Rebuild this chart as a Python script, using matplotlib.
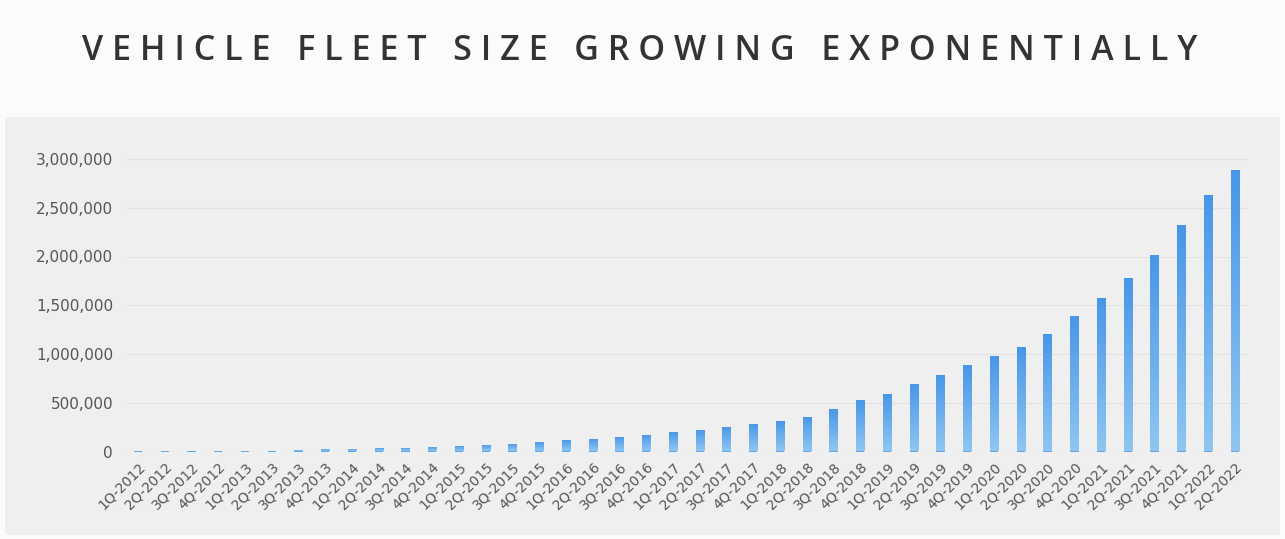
import numpy as np
import matplotlib
matplotlib.use("Agg")
import matplotlib.pyplot as plt
from matplotlib.patches import Rectangle
from matplotlib import ticker

# quarters 1Q-2012 .. 2Q-2022
quarters = [f"{q}Q-{y}" for y in range(2012, 2023) for q in range(1, 5)][:42]

# fleet size (approx.)
fleet = [
    1000, 1500, 2000, 2500, 5000, 10000, 15000, 22000,          # 2012 - 4Q-2013
    28000, 34000, 40000, 46000,                                 # 2014
    58000, 63000, 79000, 102000,                                # 2015
    120000, 127000, 147000, 171000,                             # 2016
    198000, 225000, 253000, 277000,                             # 2017
    311000, 350000, 436000, 528000,                             # 2018
    586000, 688000, 781000, 886000,                             # 2019
    978000, 1071000, 1204000, 1391000,                          # 2020
    1573000, 1775000, 2016000, 2318000,                         # 2021
    2628000, 2884000,                                           # 2022
]

title = "VEHICLE FLEET SIZE GROWING EXPONENTIALLY"
yticks = [0, 500000, 1000000, 1500000, 2000000, 2500000, 3000000]

W, H = 1285, 539
fig = plt.figure(figsize=(W / 100, H / 100), dpi=100)
fig.patch.set_facecolor("#fbfbfb")

# grey panel behind the chart
fig.patches.append(Rectangle((5 / W, 1 - 535 / H), 1275 / W, 418 / H,
                             transform=fig.transFigure, facecolor="#efefef",
                             edgecolor="none", zorder=-5))

spaced = "   ".join(" ".join(w) for w in title.split())
fig.text(640 / W, 1 - 60 / H, spaced, ha="center", va="baseline",
         fontsize=24.5, fontweight="semibold", color="#333333", family="Open Sans")

ax = fig.add_axes([127 / W, 1 - 451.5 / H, 1121 / W, 292.5 / H])
ax.set_zorder(2)
ax.set_facecolor("none")

x = np.arange(len(fleet))
bars = ax.bar(x, fleet, width=0.31, color="#5ea7ec", zorder=3)

# vertical gradient in each bar: darker on top, lighter at the bottom
grad = np.linspace(0, 1, 256).reshape(-1, 1)
cmap = matplotlib.colors.LinearSegmentedColormap.from_list("g", ["#8fc6f1", "#4796e8"])
for b in bars:
    bx, by, bw, bh = b.get_x(), b.get_y(), b.get_width(), b.get_height()
    im = ax.imshow(grad, extent=[bx, bx + bw, by, by + bh], origin="lower",
                   aspect="auto", cmap=cmap, zorder=4)
    im.set_clip_path(b)

ax.set_xlim(-0.41, 41.49)
ax.set_ylim(0, 3000000)
ax.set_yticks(yticks)
ax.yaxis.set_major_formatter(ticker.FuncFormatter(lambda v, p: f"{int(v):,}"))
ax.set_xticks(x)
ax.set_xticklabels(quarters, rotation=45, ha="right", rotation_mode="anchor")
ax.tick_params(axis="both", length=0, colors="#555555")
ax.tick_params(axis="y", pad=10, labelsize=11)
ax.tick_params(axis="x", pad=6, labelsize=10)
ax.grid(axis="y", color="#e2e2e2", linewidth=0.8, zorder=1)
for s in ax.spines.values():
    s.set_visible(False)

fig.savefig("out.png", dpi=100, facecolor=fig.get_facecolor())
